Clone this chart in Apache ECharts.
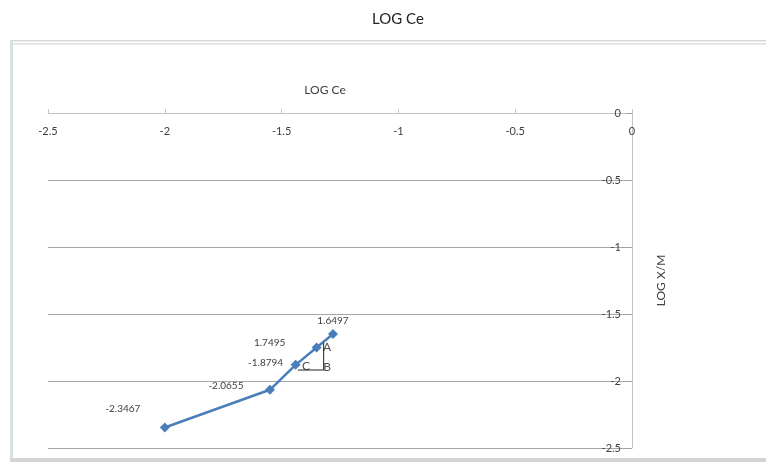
<!DOCTYPE html>
<html>
<head>
<meta charset="utf-8">
<script src="https://cdn.jsdelivr.net/npm/echarts@6/dist/echarts.min.js"></script>
<style>html,body{margin:0;padding:0;background:#fff}#c{width:766px;height:462px}</style>
</head>
<body>
<div id="c"></div>
<script>
var logCe = [-2.0, -1.55, -1.44, -1.35, -1.28];
var logXM = [-2.3467, -2.0655, -1.8794, -1.7495, -1.6497];
var pointLabels = ['-2.3467', '-2.0655', '-1.8794', '1.7495', '1.6497'];
var xTicks = [-2.5, -2, -1.5, -1, -0.5, 0];
var yTicks = [0, -0.5, -1, -1.5, -2, -2.5];
var triangleX = [-1.43, -1.32, -1.32];
var triangleY = [-1.918, -1.918, -1.716];
var letters = ['A', 'B', 'C'];
var letterX = [-1.305, -1.305, -1.395];
var letterY = [-1.745, -1.895, -1.89];

var labelOffsets = [[-42, -19], [-44, -4], [-30, -2], [-47, -5], [0, -13]];
var font = 'Lato, "Liberation Sans", sans-serif';

var chart = echarts.init(document.getElementById('c'));
chart.setOption({
  animation: false,
  backgroundColor: '#fff',
  title: [
    {text: 'LOG Ce', left: 393, top: 7, textAlign: 'center',
     textStyle: {fontFamily: font, fontSize: 15, fontWeight: 'normal', color: '#222'}},
    {text: 'LOG Ce', left: 320, top: 79, textAlign: 'center',
     textStyle: {fontFamily: font, fontSize: 12, fontWeight: 'normal', color: '#404040'}}
  ],
  graphic: [
    {type: 'rect', shape: {x: 10, y: 40, width: 770, height: 1.5}, style: {fill: '#d6d8d8'}, z: -1},
    {type: 'rect', shape: {x: 10, y: 43, width: 770, height: 1.5}, style: {fill: '#dcdede'}, z: -1},
    {type: 'rect', shape: {x: 10, y: 40, width: 3, height: 422}, style: {fill: '#d3e2e2'}, z: -1},
    {type: 'rect', shape: {x: 10, y: 458, width: 770, height: 4}, style: {fill: '#d4d4d4'}, z: -1}
  ],
  grid: {left: 48, right: 134, top: 113, bottom: 14},
  xAxis: {
    type: 'value', position: 'top', min: -2.5, max: 0, interval: 0.5,
    axisLine: {show: true, onZero: false, lineStyle: {color: '#c4c4c4', width: 1}},
    axisTick: {show: true, inside: false, length: 4, lineStyle: {color: '#c4c4c4'}},
    axisLabel: {inside: true, margin: 13, fontFamily: font, fontSize: 11, color: '#404040',
      formatter: function (v) { return xTicks.indexOf(v) >= 0 ? String(v) : ''; }},
    splitLine: {show: false}
  },
  yAxis: {
    type: 'value', position: 'right', min: -2.5, max: 0, interval: 0.5,
    name: 'LOG X/M', nameLocation: 'middle', nameRotate: 90, nameGap: 23,
    nameTextStyle: {fontFamily: font, fontSize: 12, color: '#404040'},
    axisLine: {show: true, onZero: false, lineStyle: {color: '#c4c4c4', width: 1}},
    axisTick: {show: true, inside: true, length: 6, lineStyle: {color: '#a0a0a0'}},
    axisLabel: {inside: true, margin: 11, fontFamily: font, fontSize: 11, color: '#404040',
      formatter: function (v) { return yTicks.indexOf(v) >= 0 ? String(v) : ''; }},
    splitLine: {show: true, lineStyle: {color: '#a6a6a6', width: 1}}
  },
  series: [
    {
      type: 'line',
      data: logCe.map(function (x, i) {
        return {value: [x, logXM[i]],
          label: {show: true, position: 'inside', offset: labelOffsets[i], formatter: pointLabels[i]}};
      }),
      symbol: 'diamond', symbolSize: 10,
      lineStyle: {color: '#4a7ebb', width: 2.5},
      itemStyle: {color: '#4a7ebb'},
      label: {fontFamily: font, fontSize: 10, color: '#404040'},
      z: 3
    },
    {
      type: 'line',
      data: triangleX.map(function (x, i) { return [x, triangleY[i]]; }),
      symbol: 'none',
      lineStyle: {color: '#222', width: 1},
      z: 4
    },
    {
      type: 'scatter',
      data: letterX.map(function (x, i) { return {value: [x, letterY[i]], name: letters[i]}; }),
      symbolSize: 0,
      label: {show: true, position: 'inside', formatter: '{b}', fontFamily: font, fontSize: 12, color: '#222'},
      z: 5
    }
  ]
});
</script>
</body>
</html>
